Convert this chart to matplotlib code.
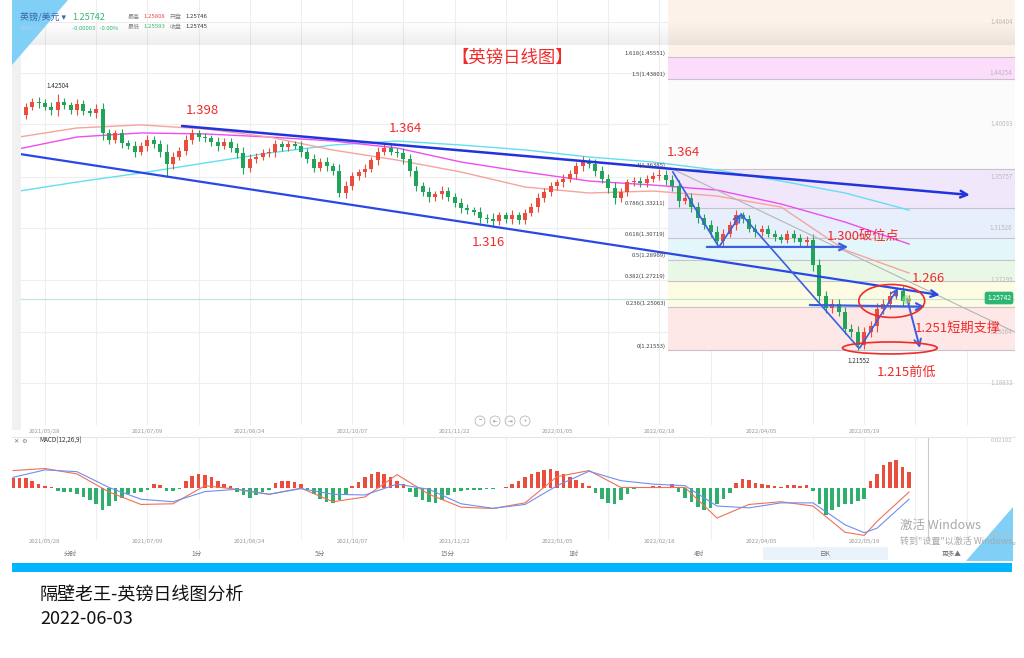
import matplotlib.pyplot as plt
import matplotlib.patches as mpatches
import numpy as np

plt.rcParams['font.family'] = ['Noto Sans CJK SC', 'DejaVu Sans']

W, H = 1024, 658

# 2-day candles, GBP/USD, May 2021 -> Jun 2022
first_open = 1.4100
closes = [1.4120, 1.4080, 1.4150, 1.4190, 1.4180, 1.4150, 1.4120, 1.4190, 1.4160, 1.4120,
          1.4170, 1.4110, 1.4100, 1.4130, 1.3930, 1.3880, 1.3930, 1.3850, 1.3830, 1.3780,
          1.3830, 1.3880, 1.3840, 1.3780, 1.3680, 1.3740, 1.3790, 1.3880, 1.3930, 1.3900,
          1.3890, 1.3860, 1.3830, 1.3860, 1.3810, 1.3770, 1.3650, 1.3720, 1.3740, 1.3770,
          1.3780, 1.3840, 1.3820, 1.3840, 1.3830, 1.3780, 1.3720, 1.3650, 1.3700, 1.3660,
          1.3620, 1.3440, 1.3500, 1.3580, 1.3610, 1.3640, 1.3710, 1.3780, 1.3810, 1.3780,
          1.3770, 1.3720, 1.3620, 1.3500, 1.3450, 1.3410, 1.3430, 1.3460, 1.3410, 1.3360,
          1.3320, 1.3300, 1.3290, 1.3240, 1.3230, 1.3210, 1.3260, 1.3230, 1.3260, 1.3220,
          1.3280, 1.3330, 1.3400, 1.3450, 1.3500, 1.3530, 1.3560, 1.3600, 1.3660, 1.3700,
          1.3680, 1.3620, 1.3560, 1.3480, 1.3400, 1.3450, 1.3530, 1.3540, 1.3520, 1.3560,
          1.3580, 1.3590, 1.3550, 1.3500, 1.3380, 1.3400, 1.3330, 1.3240, 1.3180, 1.3120,
          1.3050, 1.3110, 1.3180, 1.3260, 1.3230, 1.3150, 1.3120, 1.3150, 1.3110, 1.3080,
          1.3060, 1.3110, 1.3070, 1.3040, 1.3060, 1.2850, 1.2600, 1.2500, 1.2530, 1.2470,
          1.2330, 1.2300, 1.2200, 1.2300, 1.2350, 1.2490, 1.2530, 1.2600, 1.2640, 1.2560,
          1.2574]
# wick length beyond the body, in 0.001
wicks = [3, 4, 3, 3, 4, 3, 4, 5, 3, 3, 4, 3, 3, 4, 5, 4, 3, 4, 3, 4,
         3, 4, 3, 4, 6, 4, 3, 4, 4, 3, 3, 3, 4, 3, 3, 4, 5, 4, 3, 3,
         3, 4, 3, 3, 3, 4, 3, 4, 3, 4, 3, 6, 4, 3, 3, 4, 3, 4, 3, 3,
         3, 4, 4, 4, 3, 4, 3, 4, 3, 3, 4, 3, 3, 4, 3, 5, 3, 3, 4, 3,
         3, 3, 4, 3, 3, 3, 4, 3, 4, 4, 3, 4, 4, 4, 5, 3, 3, 3, 3, 3,
         3, 3, 4, 4, 5, 3, 4, 4, 3, 4, 5, 4, 3, 4, 3, 3, 4, 3, 3, 3,
         3, 3, 3, 4, 3, 5, 5, 4, 4, 4, 4, 4, 5, 4, 4, 5, 4, 4, 3, 4, 3]
high_marks = {7: 1.42504, 89: 1.3748, 101: 1.36385, 138: 1.2666}
low_marks = {24: 1.3572, 51: 1.3412, 75: 1.3161, 110: 1.3000, 132: 1.21553}

# moving averages, sampled every 10 candles
ma_idx = [0, 10, 20, 30, 40, 50, 60, 70, 80, 90, 100, 110, 120, 130, 140]
ma_fast = [1.3893, 1.3975, 1.4000, 1.3967, 1.3901, 1.3794, 1.3712, 1.3614, 1.3491, 1.3442,
           1.3458, 1.3417, 1.3327, 1.2975, 1.2786]
ma_mid = [1.3794, 1.3901, 1.3934, 1.3926, 1.3901, 1.3868, 1.3811, 1.3696, 1.3614, 1.3540,
          1.3507, 1.3466, 1.3352, 1.3204, 1.3024]
ma_slow = [1.3450, 1.3532, 1.3606, 1.3688, 1.3770, 1.3835, 1.3868, 1.3835, 1.3795, 1.3737,
           1.3696, 1.3630, 1.3540, 1.3442, 1.3302]

# MACD(12,26,9), in 0.001
macd_hist = [4.0, 4.2, 4.0, 3.0, 1.5, 0.5, 0.3, -1.5, -2.0, -2.2,
             -3.0, -4.0, -5.5, -7.5, -9.8, -8.0, -6.0, -4.5, -3.0, -2.5,
             -2.0, -1.0, 1.5, 1.2, -1.5, -1.5, -0.5, 3.0, 5.0, 6.0,
             5.5, 4.5, 3.0, 1.5, 0.5, -2.0, -3.5, -4.5, -3.5, -2.0,
             -1.0, 2.0, 3.0, 3.0, 2.5, 1.5, -1.0, -3.0, -5.0, -6.5,
             -6.8, -5.5, -3.0, 0.8, 2.5, 4.5, 6.0, 6.8, 6.0, 4.5,
             3.0, 1.5, -2.0, -4.0, -5.5, -6.5, -6.8, -5.5, -3.5, -2.0,
             -1.5, -1.2, -1.0, -1.0, -0.8, -0.6, -0.3, 0.3, 1.5, 3.0,
             4.5, 6.0, 7.0, 7.8, 8.0, 7.5, 6.0, 4.5, 3.5, 2.0,
             0.5, -2.5, -5.0, -7.0, -7.5, -5.5, -3.0, -0.5, -0.4, -0.3,
             0.5, 0.6, 0.3, 1.5, -2.0, -4.5, -6.5, -8.5, -9.8, -9.0,
             -7.5, -5.0, -2.5, 2.0, 3.8, 3.5, 2.0, 1.5, 1.2, 0.8,
             0.3, 1.0, 1.0, 0.5, 1.0, -1.5, -7.5, -12.0, -10.0, -8.5,
             -7.5, -7.5, -6.0, -5.0, 3.0, 6.0, 10.0, 11.5, 12.0, 9.0,
             7.0]
line_idx = [0, 5, 10, 15, 20, 25, 30, 35, 40, 45, 50, 55, 60, 65, 70, 75, 80, 85, 90, 95,
            100, 105, 110, 115, 120, 125, 130, 133, 135, 140]
macd_dif = [7.5, 8.4, 6.0, -2.0, -7.5, -7.2, 0.8, -0.8, -3.0, -0.3, -6.3, -4.2, 5.7, -3.0,
            -8.7, -9.3, -6.8, 4.8, 7.5, 0.0, 0.0, 0.0, -13.5, -7.5, -6.3, -8.2, -19.8, -21.2,
            -15.0, -2.0]
macd_dea = [4.5, 7.8, 7.0, 0.0, -5.2, -6.3, -1.8, -0.8, -3.0, -0.5, -3.0, -3.3, 1.5, -0.8,
            -7.2, -9.2, -7.5, 0.8, 7.2, 3.0, 1.5, 0.8, -8.2, -9.0, -6.8, -6.8, -16.5, -20.0,
            -18.0, -5.2]

date_idx = [5, 21, 37, 53, 69, 85, 101, 117, 133]
date_labels = ['2021/05/28', '2021/07/09', '2021/08/24', '2021/10/07', '2021/11/22',
               '2022/01/05', '2022/02/18', '2022/04/05', '2022/05/19']
price_ticks = [1.48404, 1.44254, 1.40093, 1.35757, 1.31526, 1.27295, 1.23064, 1.18833]

fib_ratios = ['1.618', '1.5', '1', '0.786', '0.618', '0.5', '0.382', '0.236', '0']
fib_prices = [1.45551, 1.43801, 1.36385, 1.33211, 1.30719, 1.28969, 1.27219, 1.25063, 1.21553]
fib_colors = ['#fcf2ea', '#fcdcfb', '#fbfbfb', '#f1e7fb', '#e7effc', '#e3f6fa',
              '#e9f8e6', '#fdfbe1', '#fde7e7']

last_price = 1.25742

# analyst drawings: (candle index, price)
upper_channel = [(26.4, 1.3991), (149.5, 1.3426)]
lower_channel = [(0.0, 1.3770), (144.8, 1.2606)]
gray_line = [(102.7, 1.3647), (156.5, 1.2303)]
zig_down1 = [(103.1, 1.3614), (110.3, 1.2999)]
zig_up1 = [(110.3, 1.2999), (113.75, 1.3270)]
zig_down2 = [(113.75, 1.3270), (132.0, 1.2180)]
zig_up2 = [(132.3, 1.2172), (138.3, 1.2663)]
zig_down3 = [(139.7, 1.2573), (141.7, 1.2172)]
break_line = [(108.4, 1.3000), (130.5, 1.3000)]
support_line = [(124.5, 1.2524), (142.5, 1.2510)]

RED = '#f02b2b'
UP = '#eb4d3d'
DOWN = '#22a35a'


def fx(x):
    return x / W


def fy(y):
    return 1 - y / H


fig = plt.figure(figsize=(W / 100, H / 100), dpi=100)
fig.patch.set_facecolor('white')

XL = (-0.16, 156.56)
ax = fig.add_axes([fx(12), fy(425), 1003 / W, 425 / H])
ax.set_xlim(*XL)
ax.set_ylim(1.15407, 1.50236)
ax.axis('off')

for p in price_ticks:
    ax.axhline(p, color='#eeeeee', lw=0.8, zorder=0)
    ax.text(XL[1] - 0.4, p, f'{p:.5f}', ha='right', va='center', fontsize=4.5,
            color='#bbbbbb', zorder=1)
for i in range(5, 156, 8):
    ax.axvline(i, color='#eeeeee', lw=0.8, zorder=0)

# fibonacci zones
x0 = 102.3
tops = [1.50236] + fib_prices[:-1]
for top, bot, col in zip(tops, fib_prices, fib_colors):
    ax.add_patch(mpatches.Rectangle((x0, bot), XL[1] - x0, top - bot, color=col, lw=0, zorder=0.5))
for r, p in zip(fib_ratios, fib_prices):
    ax.plot([x0, XL[1]], [p, p], color='#c9c2cc', lw=0.8, zorder=0.6)
    ax.text(x0 - 0.3, p + 0.0012, f'{r}({p:.5f})', ha='right', va='bottom', fontsize=4.3,
            color='#444444', zorder=5)

ax.axhline(last_price, color='#bfe3dc', lw=0.8, zorder=1)

# moving averages
ax.plot(ma_idx, ma_slow, color='#62dff0', lw=1.0, zorder=2)
ax.plot(ma_idx, ma_mid, color='#f04cf0', lw=1.0, zorder=2)
ax.plot(ma_idx, ma_fast, color='#f6a49c', lw=1.0, zorder=2)

# candles
idx = np.arange(len(closes))
opens = [first_open] + closes[:-1]
highs, lows, colors, bottoms, heights = [], [], [], [], []
for i, (o, c, w) in enumerate(zip(opens, closes, wicks)):
    highs.append(high_marks.get(i, max(o, c) + w * 0.001))
    lows.append(low_marks.get(i, min(o, c) - w * 0.001))
    colors.append(UP if c >= o else DOWN)
    bottoms.append(min(o, c))
    heights.append(max(abs(c - o), 0.0005))
ax.vlines(idx, lows, highs, colors=colors, lw=0.8, zorder=3)
ax.bar(idx, heights, bottom=bottoms, width=0.62, color=colors, lw=0, zorder=3.2)


def seg(pts, color, lw, arrow=False, z=4):
    (xa, ya), (xb, yb) = pts
    if arrow:
        ax.annotate('', xy=(xb, yb), xytext=(xa, ya),
                    arrowprops=dict(arrowstyle='->', color=color, lw=lw, mutation_scale=12,
                                    shrinkA=0, shrinkB=0), zorder=z)
    else:
        ax.plot([xa, xb], [ya, yb], color=color, lw=lw, zorder=z)


seg(gray_line, '#b5b5b5', 0.8)
seg(upper_channel, '#2233dd', 1.8, arrow=True)
seg(lower_channel, '#2a48e6', 1.6, arrow=True)
seg(zig_down1, '#3a5fe0', 1.2)
seg(zig_up1, '#3a5fe0', 1.2, arrow=True)
seg(zig_down2, '#3a5fe0', 1.2)
seg(zig_up2, '#3a5fe0', 1.2, arrow=True)
seg(zig_down3, '#3a5fe0', 1.4, arrow=True)
seg(break_line, '#3a5fe0', 1.6, arrow=True)
seg(support_line, '#3a5fe0', 1.6, arrow=True)

ax.add_patch(mpatches.Ellipse((137.3, 1.2557), 10.3, 0.0270, fill=False, ec=RED, lw=1.2, zorder=5))
ax.add_patch(mpatches.Ellipse((137.0, 1.2172), 14.8, 0.0098, fill=False, ec=RED, lw=1.2, zorder=5))
ax.scatter([139.5], [1.2571], s=40, color='#8be37a', alpha=0.6, zorder=5, lw=0)

# annotations
notes = [('1.398', 202, 110), ('1.364', 405, 128), ('1.364', 683, 152), ('1.316', 488, 242),
         ('1.300破位点', 863, 237), ('1.266', 928, 278), ('1.251短期支撑', 958, 328),
         ('1.215前低', 907, 372)]
for t, x, y in notes:
    fig.text(fx(x), fy(y), t, color=RED, fontsize=9.5, ha='center', va='center')
fig.text(fx(512), fy(58), '【英镑日线图】', color=RED, fontsize=12.5, ha='center', va='center')
fig.text(fx(58), fy(86), '1.42504', color='#333333', fontsize=4.5, ha='center', va='center')
fig.text(fx(859), fy(361), '1.21552', color='#333333', fontsize=4.5, ha='center', va='center')

# last price tag
fig.text(fx(999), fy(298), f'{last_price:.5f}', color='white', fontsize=4.8, ha='center', va='center',
         bbox=dict(boxstyle='round,pad=0.35', fc='#2bb673', ec='none'))

# header
hd = fig.add_axes([fx(12), fy(45), 1003 / W, 24 / H])
grad = np.zeros((24, 2, 4))
grad[..., :3] = 0.45
grad[..., 3] = np.linspace(0, 0.12, 24)[:, None]
hd.imshow(grad, aspect='auto', extent=[0, 1, 0, 1])
hd.axis('off')

fig.add_artist(mpatches.Polygon([[fx(12), fy(0)], [fx(68), fy(0)], [fx(12), fy(65)]],
                                closed=True, transform=fig.transFigure, color='#7fcff6', lw=0))
fig.add_artist(mpatches.Rectangle((fx(12), fy(430)), 9 / W, 385 / H, transform=fig.transFigure,
                                  color='#f1f1f1', lw=0, zorder=0.9))
fig.text(fx(20), fy(17), '英镑/美元 ▾', fontsize=6.5, color='#3b64a8', va='center')
fig.text(fx(20), fy(28), 'GBPUSD', fontsize=4, color='#a8d3f0', va='center')
fig.text(fx(72), fy(17), '1.25742', fontsize=6.5, color='#2eb872', va='center')
fig.text(fx(72), fy(28), '-0.00003   -0.00%', fontsize=4.3, color='#2eb872', va='center')
hdr = [('最高', 128, 17, '#888888'), ('1.25808', 143, 17, '#f04848'), ('开盘', 170, 17, '#888888'),
       ('1.25746', 185, 17, '#333333'), ('最低', 128, 27, '#888888'), ('1.25593', 143, 27, '#2eb872'),
       ('收盘', 170, 27, '#888888'), ('1.25745', 185, 27, '#333333')]
for t, x, y, c in hdr:
    fig.text(fx(x), fy(y), t, fontsize=4.3, color=c, va='center')

# zoom buttons
for x, s in zip([480, 495, 510, 525], ['−', '⇤', '⇥', '+']):
    fig.add_artist(mpatches.Ellipse((fx(x), fy(421)), 10 / W, 10 / H, transform=fig.transFigure,
                                    fill=False, ec='#b8b8b8', lw=0.6))
    fig.text(fx(x), fy(421), s, fontsize=4, color='#888888', ha='center', va='center')

# date labels
for i, lab in zip(date_idx, date_labels):
    x = 13 + 6.4 * i
    fig.text(fx(x), fy(432), lab, fontsize=4.3, color='#999999', ha='center', va='center')
    fig.text(fx(x), fy(542), lab, fontsize=4.3, color='#999999', ha='center', va='center')
fig.add_artist(plt.Line2D([fx(12), fx(1015)], [fy(436.5), fy(436.5)], color='#e6e6e6', lw=0.8))

# MACD panel
mx = fig.add_axes([fx(12), fy(540), 1003 / W, 103 / H])
mx.set_xlim(*XL)
mx.set_ylim(-23.23, 22.35)
mx.axis('off')
for i in range(5, 156, 8):
    mx.axvline(i, color='#f0f0f0', lw=0.8, zorder=0)
mx.axvline(142.9, color='#cccccc', lw=0.8, zorder=0)
mx.bar(idx, macd_hist, width=0.55,
       color=[UP if v >= 0 else '#2fae6c' for v in macd_hist], lw=0, zorder=2)
mx.plot(line_idx, macd_dif, color='#f07058', lw=0.8, zorder=3)
mx.plot(line_idx, macd_dea, color='#6f8ff0', lw=0.8, zorder=3)
fig.text(fx(14), fy(441), '✕  ⚙', fontsize=4.5, color='#777777', va='center')
fig.text(fx(39), fy(441), 'MACD(12,26,9)', fontsize=4.5, color='#333333', va='center')
fig.text(fx(1012), fy(440), '0.02102', fontsize=4.3, color='#bbbbbb', ha='right', va='center')
fig.text(fx(1012), fy(535), '-0.02102', fontsize=4.3, color='#bbbbbb', ha='right', va='center')

# timeframe tabs
fig.add_artist(mpatches.Rectangle((fx(763), fy(560)), 125 / W, 13 / H, transform=fig.transFigure,
                                  color='#eaf2fb', lw=0))
tabs = [('分时', 70), ('1分', 197), ('5分', 320), ('15分', 447), ('1时', 574),
        ('4时', 699), ('日K', 825), ('更多▲', 952)]
for t, x in tabs:
    fig.text(fx(x), fy(554), t, fontsize=4.8, color='#777777', ha='center', va='center')

# windows watermark
fig.add_artist(mpatches.Polygon([[fx(1013), fy(507)], [fx(1013), fy(561)], [fx(966), fy(561)]],
                                closed=True, transform=fig.transFigure, color='#7fcff6', lw=0))
fig.text(fx(900), fy(525), '激活 Windows', fontsize=9, color='#a9a9a9', va='center')
fig.text(fx(900), fy(541), '转到"设置"以激活 Windows。', fontsize=6.5, color='#a9a9a9', va='center')

# blue bar + caption
fig.add_artist(mpatches.Rectangle((fx(12), fy(572)), 1000 / W, 9 / H, transform=fig.transFigure,
                                  color='#00b4ff', lw=0))
fig.text(fx(40), fy(596), '隔壁老王-英镑日线图分析', fontsize=13, color='#111111', va='center')
fig.text(fx(40), fy(619), '2022-06-03', fontsize=13, color='#111111', va='center')

fig.savefig('out.png', dpi=100, facecolor='white')
